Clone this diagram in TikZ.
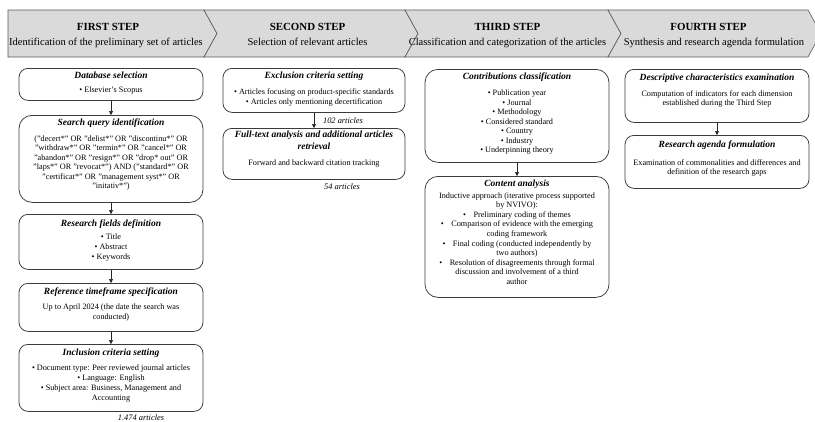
\documentclass[tikz,border=0pt]{standalone}
\usepackage{fontspec}
\setmainfont{Liberation Serif}
\usetikzlibrary{arrows.meta,calc}
\definecolor{hdrfill}{RGB}{218,218,218}
\definecolor{edgec}{RGB}{55,60,66}
\begin{document}
\begin{tikzpicture}[x=1pt,y=-1pt,
  box/.style={draw=edgec, line width=0.75pt, rounded corners=9pt, minimum width=184pt, inner sep=0pt, anchor=north},
  tallbox/.style={box, rounded corners=13pt},
  ttl/.style={font=\fontsize{9.5}{12}\selectfont\bfseries\itshape, inner sep=0pt, align=center, anchor=north, yshift=5.6pt},
  txt/.style={font=\fontsize{8.2}{9.6}\selectfont, inner sep=0pt, align=center, anchor=north, yshift=4.3pt},
  lab/.style={font=\fontsize{8.4}{10}\selectfont\itshape, inner sep=0pt},
  arr/.style={-{Triangle[length=4pt,width=4pt]}, line width=0.6pt, draw=black!85},
  chev/.style={fill=hdrfill, draw=edgec!85, line width=0.6pt},
  htitle/.style={font=\fontsize{10.9}{12}\selectfont\bfseries, inner sep=0pt, anchor=base},
  hsub/.style={font=\fontsize{10.5}{12}\selectfont, inner sep=0pt, anchor=base}
]
\useasboundingbox (0,0) rectangle (815,421);
\fill[white] (0,0) rectangle (815,421);

% ---------- header chevrons ----------
\filldraw[chev] (8,10) -- (204,10) -- (217,33.5) -- (204,57) -- (8,57) -- cycle;
\filldraw[chev] (204,10) -- (405,10) -- (418,33.5) -- (405,57) -- (204,57) -- (217,33.5) -- cycle;
\filldraw[chev] (405,10) -- (608,10) -- (621,33.5) -- (608,57) -- (405,57) -- (418,33.5) -- cycle;
\filldraw[chev] (608,10) -- (808,10) -- (821,33.5) -- (808,57) -- (608,57) -- (621,33.5) -- cycle;

\node[htitle] (h1t) at (108,30.9) {FIRST STEP};
\node[hsub]   (h1s) at (106,45.6) {Identification of the preliminary set of articles};
\node[htitle] (h2t) at (307.5,30.9) {SECOND STEP};
\node[hsub]   (h2s) at (307.5,45.6) {Selection of relevant articles};
\node[htitle] (h3t) at (507.5,30.9) {THIRD STEP};
\node[hsub]   (h3s) at (507.5,45.6) {Classification and categorization of the articles};
\node[htitle] (h4t) at (708.5,30.9) {FOURTH STEP};
\node[hsub]   (h4s) at (714,45.6) {Synthesis and research agenda formulation};

% ---------- column 1 ----------
\node[box, minimum height=32pt] (db) at (111,68) {};
\node[ttl] (dbt) at (111,75) {\strut Database selection};
\node[txt] (dbb) at (111,90) {\strut • Elsevier’s Scopus};

\node[tallbox, minimum height=87pt] (sq) at (111,115) {};
\node[ttl] (sqt) at (111,122) {\strut Search query identification};
\node[txt,font=\fontsize{8.2}{9.45}\selectfont] (sqb) at (111,139) {\strut ("decert*" OR "delist*" OR "discontinu*" OR\\
"withdraw*" OR "termin*" OR "cancel*" OR\\
"abandon*" OR "resign*" OR "drop* out" OR\\
"laps*" OR "revocat*") AND ("standard*" OR\\
"certificat*" OR "management syst*" OR\\
"initativ*")};

\node[box, minimum height=55pt] (rf) at (111,214) {};
\node[ttl] (rft) at (111,223) {\strut Research fields definition};
\node[txt,font=\fontsize{8.2}{10}\selectfont] (rfb) at (111,237) {\strut • Title\\ • Abstract\\ • Keywords};

\node[box, minimum height=48pt] (rt) at (111,283) {};
\node[ttl] (rtt) at (111,291) {\strut Reference timeframe specification};
\node[txt,font=\fontsize{8.2}{10}\selectfont] (rtb) at (111,307) {\strut Up to April 2024 (the date the search was\\ conducted)};

\node[box, minimum height=67pt] (ic) at (111,344) {};
\node[ttl] (ict) at (111,352) {\strut Inclusion criteria setting};
\node[txt,font=\fontsize{8.2}{10}\selectfont] (icb) at (111,368) {\strut • Document type: Peer reviewed journal articles\\
• Language: English\\
• Subject area: Business, Management and\\ Accounting};
\node[lab] (n1474) at (141,417.3) {1.474 articles};

\draw[arr] (db) -- (sq);
\draw[arr] (sq) -- (rf);
\draw[arr] (rf) -- (rt);
\draw[arr] (rt) -- (ic);

% ---------- column 2 ----------
\node[box, minimum width=182pt, minimum height=44pt] (ex) at (314,68) {};
\node[ttl] (ext) at (314,75) {\strut Exclusion criteria setting};
\node[txt,font=\fontsize{8.2}{10}\selectfont] (exb) at (314,92) {\strut • Articles focusing on product-specific standards\\
• Articles only mentioning decertification};

\node[box, minimum width=182pt, minimum height=51pt] (ft) at (314,128) {};
\node[ttl] (ftt) at (314,134) {\strut Full-text analysis and additional articles\\ retrieval};
\node[txt] (ftb) at (314,163) {\strut Forward and backward citation tracking};

\node[lab] (n102) at (343,121) {102 articles};
\node[lab] (n54) at (342,187) {54 articles};
\draw[arr] (ex) -- (ft);

% ---------- column 3 ----------
\node[tallbox, minimum height=93pt] (cc) at (517,69) {};
\node[ttl] (cct) at (517,76) {\strut Contributions classification};
\node[txt,font=\fontsize{8.2}{9.55}\selectfont] (ccb) at (517,93) {\strut • Publication year\\
• Journal\\ • Methodology\\ • Considered standard\\ • Country\\ • Industry\\ • Underpinning theory};

\node[tallbox, minimum height=121pt] (ca) at (517,176) {};
\node[ttl] (cat) at (517,183) {\strut Content analysis};
\node[txt,font=\fontsize{8.2}{9.6}\selectfont] (cab) at (517,195.5) {\strut Inductive approach (iterative process supported\\
by NVIVO):\\
•\hspace{7.5pt}Preliminary coding of themes\\
•\hspace{7.5pt}Comparison of evidence with the emerging\\
coding framework\\
•\hspace{7.5pt}Final coding (conducted independently by\\
two authors)\\
•\hspace{7.5pt}Resolution of disagreements through formal\\
discussion and involvement of a third\\
author};
\draw[arr] (cc) -- (ca);

% ---------- column 4 ----------
\node[box, minimum height=53pt] (de) at (717,69) {};
\node[ttl] (det) at (717,77) {\strut Descriptive characteristics examination};
\node[txt,font=\fontsize{8.2}{9.4}\selectfont] (deb) at (717,94) {\strut Computation of indicators for each dimension\\ established during the Third Step};

\node[box, minimum height=53pt] (ra) at (717,135) {};
\node[ttl] (rat) at (717,144.5) {\strut Research agenda formulation};
\node[txt,font=\fontsize{8.2}{9.4}\selectfont] (rab) at (717,163) {\strut Examination of commonalities and differences and\\ definition of the research gaps};
\draw[arr] (de) -- (ra);
\end{tikzpicture}
\end{document}
